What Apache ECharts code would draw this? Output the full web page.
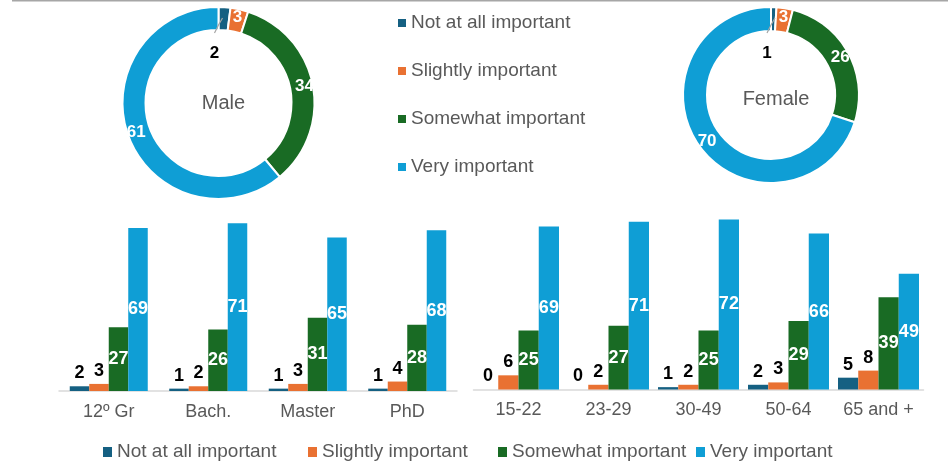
<!DOCTYPE html>
<html>
<head>
<meta charset="utf-8">
<script src="https://cdn.jsdelivr.net/npm/echarts@6/dist/echarts.min.js"></script>
<style>
  html, body { margin: 0; padding: 0; background: #ffffff; }
  #chart { width: 948px; height: 476px; }
</style>
</head>
<body>
<div id="chart"></div>
<script>
// Importance levels and their colours
const levels = ['Not at all important', 'Slightly important', 'Somewhat important', 'Very important'];
const levelColors = ['#156082', '#E97132', '#196B24', '#0F9ED5'];

// Shares by gender (%)
const maleShares = [2, 3, 34, 61];
const femaleShares = [1, 3, 26, 70];

// Shares by education level (%)
const eduCats = ['12º Gr', 'Bach.', 'Master', 'PhD'];
const eduNotAtAll = [2, 1, 1, 1];
const eduSlightly = [3, 2, 3, 4];
const eduSomewhat = [27, 26, 31, 28];
const eduVery = [69, 71, 65, 68];

// Shares by age group (%)
const ageCats = ['15-22', '23-29', '30-49', '50-64', '65 and +'];
const ageNotAtAll = [0, 0, 1, 2, 5];
const ageSlightly = [6, 2, 2, 3, 8];
const ageSomewhat = [25, 27, 25, 29, 39];
const ageVery = [69, 71, 72, 66, 49];

const eduSeries = [eduNotAtAll, eduSlightly, eduSomewhat, eduVery];
const ageSeries = [ageNotAtAll, ageSlightly, ageSomewhat, ageVery];

const FONT = 'Liberation Sans';
const GREY = '#595959';

// Small first slice: label pulled into the donut hole with a short leader
function tuckLabel(p) {
  if (p.dataIndex !== 0) return {};
  const r = p.rect;
  return {
    x: r.x - 4,
    y: r.y + 46,
    align: 'center',
    verticalAlign: 'middle',
    labelLinePoints: [[r.x + 4, r.y + 11], [r.x, r.y + 18], [r.x - 4, r.y + 26]]
  };
}

const labelFont = { fontFamily: FONT, fontWeight: 'bold', fontSize: 17 };

// A donut is two pies on the same footprint: the coloured ring with its
// in-ring labels, and a transparent copy on top carrying the small-slice
// label and its leader so the leader is not hidden under the ring.
function donut(values, center, radius) {
  const ring = {
    type: 'pie',
    center: center,
    radius: radius,
    startAngle: 90,
    clockwise: true,
    avoidLabelOverlap: false,
    silent: true,
    z: 2,
    itemStyle: { borderColor: '#ffffff', borderWidth: 2 },
    label: Object.assign({ show: true, position: 'inside', formatter: '{c}', color: '#ffffff' }, labelFont),
    labelLine: { show: false },
    data: values.map((v, i) => ({
      name: levels[i], value: v,
      itemStyle: { color: levelColors[i] },
      label: { show: i !== 0 }
    }))
  };
  const callout = {
    type: 'pie',
    center: center,
    radius: radius,
    startAngle: 90,
    clockwise: true,
    avoidLabelOverlap: false,
    silent: true,
    z: 3,
    legendHoverLink: false,
    itemStyle: { color: 'rgba(0,0,0,0)', borderWidth: 0 },
    label: Object.assign({ show: true, position: 'outside', formatter: '{c}', color: '#000000' }, labelFont),
    labelLine: { show: true, length: 4, length2: 4, lineStyle: { color: '#a6a6a6', width: 1.2 } },
    labelLayout: tuckLabel,
    data: values.map((v, i) => ({
      name: levels[i], value: v,
      label: { show: i === 0 },
      labelLine: { show: i === 0 }
    }))
  };
  return [ring, callout];
}

function barSeries(values, i, axisIndex, width) {
  const small = i < 2;
  return {
    type: 'bar',
    name: levels[i],
    xAxisIndex: axisIndex,
    yAxisIndex: axisIndex,
    data: values,
    barWidth: width,
    barGap: '0%',
    itemStyle: { color: levelColors[i] },
    label: {
      show: true,
      position: small ? 'top' : 'inside',
      distance: 4,
      color: small ? '#000000' : '#ffffff',
      fontFamily: FONT,
      fontWeight: 'bold',
      fontSize: 18
    }
  };
}

const xAxisBase = {
  type: 'category',
  axisTick: { show: false },
  axisLine: { lineStyle: { color: '#d9d9d9', width: 1.5 } },
  axisLabel: { interval: 0, color: GREY, fontFamily: FONT, fontSize: 18, margin: 12 }
};
const yAxisBase = { type: 'value', min: 0, max: 80, show: false, splitLine: { show: false } };

const bottomLegendLefts = [103, 308, 498, 696];

const option = {
  animation: false,
  backgroundColor: '#ffffff',
  textStyle: { fontFamily: FONT },
  title: [
    { text: 'Male', left: 218.5, top: 88, textAlign: 'center',
      textStyle: { color: GREY, fontFamily: FONT, fontWeight: 'normal', fontSize: 20 } },
    { text: 'Female', left: 771, top: 84, textAlign: 'center',
      textStyle: { color: GREY, fontFamily: FONT, fontWeight: 'normal', fontSize: 20 } }
  ],
  legend: [
    {
      orient: 'vertical', left: 398, top: 13, padding: 0,
      icon: 'rect', itemWidth: 8, itemHeight: 8, itemGap: 28,
      selectedMode: false,
      textStyle: { color: GREY, fontFamily: FONT, fontSize: 19, lineHeight: 20 },
      data: levels.map((name, i) => ({ name: name, itemStyle: { color: levelColors[i] } }))
    }
  ].concat(levels.map((name, i) => ({
    orient: 'horizontal', left: bottomLegendLefts[i], top: 442, padding: 0,
    icon: 'rect', itemWidth: 9, itemHeight: 10,
    selectedMode: false,
    textStyle: { color: GREY, fontFamily: FONT, fontSize: 19, lineHeight: 20 },
    data: [{ name: name, itemStyle: { color: levelColors[i] } }]
  }))),
  grid: [
    { left: 59, width: 398, top: 202, height: 189 },
    { left: 473.5, width: 450, top: 200.5, height: 189 }
  ],
  xAxis: [
    Object.assign({ gridIndex: 0, data: eduCats }, xAxisBase),
    Object.assign({ gridIndex: 1, data: ageCats }, xAxisBase)
  ],
  yAxis: [
    Object.assign({ gridIndex: 0 }, yAxisBase),
    Object.assign({ gridIndex: 1 }, yAxisBase)
  ],
  graphic: [
    { type: 'rect', shape: { x: 12, y: 0, width: 936, height: 1.5 }, style: { fill: '#a6a6a6' }, silent: true }
  ],
  series: []
    .concat(donut(maleShares, [218.5, 103], [73, 96]))
    .concat(donut(femaleShares, [771, 95], [64, 88]))
    .concat(eduSeries.map((v, i) => barSeries(v, i, 0, 19.5)))
    .concat(ageSeries.map((v, i) => barSeries(v, i, 1, 20.25)))
};

const chart = echarts.init(document.getElementById('chart'), null, { renderer: 'canvas' });
chart.setOption(option);
</script>
</body>
</html>
